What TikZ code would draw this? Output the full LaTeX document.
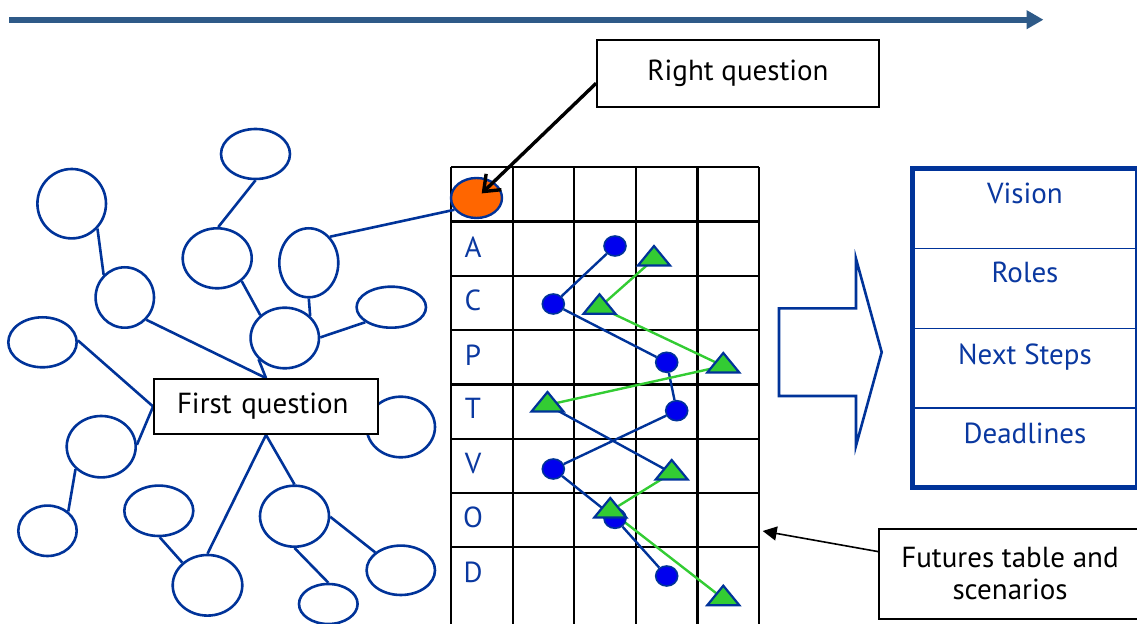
\documentclass[tikz,border=0pt]{standalone}
\usepackage{fontspec}
\setmainfont{PT Sans}
\usetikzlibrary{shapes.geometric,arrows.meta}
\pgfdeclarelayer{bg}
\pgfsetlayers{bg,main}
\definecolor{mmblue}{RGB}{0,51,153}
\definecolor{txtblue}{RGB}{10,56,160}
\definecolor{dotblue}{RGB}{0,0,238}
\definecolor{trigreen}{RGB}{51,204,51}
\definecolor{orangefill}{RGB}{255,102,0}
\definecolor{arrowblue}{RGB}{46,90,136}
\tikzset{
  mm/.style={ellipse, draw=mmblue, line width=1.3pt, fill=white, inner sep=0pt},
  mmline/.style={draw=mmblue, line width=1.3pt},
  dotnode/.style={ellipse, fill=dotblue, draw=mmblue, line width=0.8pt, inner sep=0pt, minimum width=11pt, minimum height=10pt},
  tri/.style={fill=trigreen, draw=mmblue, line width=1.1pt, line join=miter},
  blueline/.style={draw=mmblue, line width=1.2pt},
  greenline/.style={draw=trigreen, line width=1.2pt},
  gridline/.style={draw=black, line width=1.1pt},
  textbox/.style={draw=black, line width=0.9pt, fill=white, inner sep=0pt},
  letter/.style={text=txtblue, anchor=base, inner sep=0pt},
  plantext/.style={text=txtblue, anchor=base, inner sep=0pt},
}
\newcommand{\drawtri}[1]{\path[tri] (#1) ++(0,-13) -- ++(16,19.5) -- ++(-32,0) -- cycle;}
\begin{document}
\begin{tikzpicture}[x=0.5pt, y=-0.5pt, font=\fontsize{14.5}{17}\selectfont]
\useasboundingbox (0,0) rectangle (1137,624);

% top arrow
\coordinate (tl) at (9,19.7);
\coordinate (tr) at (1043.5,19.7);
\draw[draw=arrowblue, line width=3pt, -{Triangle[length=8.5pt,width=9pt]}] (tl) -- (tr);

% grid
\begin{pgfonlayer}{bg}
\foreach \i in {0,...,5} {
  \draw[gridline] (451+61.6*\i,167.3) -- (451+61.6*\i,626);
}
\foreach \j in {0,...,7} {
  \draw[gridline] (451,167.3+54.3*\j) -- (759,167.3+54.3*\j);
}
\end{pgfonlayer}

% mind map ellipses
\node[mm, minimum width=34.5pt, minimum height=25pt] (e1) at (255.5,154) {};
\node[mm, minimum width=34.3pt, minimum height=34.7pt] (e2) at (71.7,203.7) {};
\node[mm, minimum width=29.2pt, minimum height=30.2pt] (e3) at (124.8,297.5) {};
\node[mm, minimum width=34.5pt, minimum height=30pt] (e4) at (217.2,258.3) {};
\node[mm, minimum width=29.5pt, minimum height=34.5pt] (e5) at (308.8,262.8) {};
\node[mm, minimum width=34.2pt, minimum height=30.3pt] (e6) at (284.8,338) {};
\node[mm, minimum width=34.7pt, minimum height=20.5pt] (e7) at (391.3,307.2) {};
\node[mm, minimum width=34.2pt, minimum height=25pt] (e8) at (42.5,342.3) {};
\node[mm, minimum width=34.2pt, minimum height=30.3pt] (e9) at (400.8,427) {};
\node[mm, minimum width=34.5pt, minimum height=30.7pt] (e10) at (101.2,446.7) {};
\node[mm, minimum width=29.2pt, minimum height=25.2pt] (e11) at (47.5,530.8) {};
\node[mm, minimum width=34.5pt, minimum height=25.2pt] (e12) at (158.8,510.8) {};
\node[mm, minimum width=34.8pt, minimum height=30.3pt] (e13) at (207.5,585.3) {};
\node[mm, minimum width=34.5pt, minimum height=30.5pt] (e14) at (294.5,516.2) {};
\node[mm, minimum width=34.2pt, minimum height=24.7pt] (e15) at (400.8,570.3) {};
\node[mm, minimum width=29.3pt, minimum height=20pt] (e16) at (328.3,604) {};

% orange question ellipse
\node[ellipse, fill=orangefill, draw=mmblue, line width=1.2pt, inner sep=0pt, minimum width=25.5pt, minimum height=20pt] (orange) at (476.5,198) {};

% first question box
\node[textbox, minimum width=112pt, minimum height=27.5pt, text width=89pt, inner xsep=11.5pt, align=left] (fq) at (266,406.5) {First question};

% mind map connectors
\begin{pgfonlayer}{bg}
\draw[mmline] (e1.-90) -- (e4.88);
\draw[mmline] (e2.-44) -- (e3.133);
\draw[mmline] (e3.-46) -- (fq.north);
\draw[mmline] (e6.-141) -- (fq.north);
\draw[mmline] (e4.-43) -- (e6.137);
\draw[mmline] (e5.-90) -- (e6.41);
\draw[mmline] (e5.51) -- (orange.208);
\draw[mmline] (e6.1) -- (e7.210);
\draw[mmline] (e8.3) -- (fq.west);
\draw[mmline] (e10.3) -- (fq.west);
\draw[mmline] (e10.221) -- (e11.43);
\draw[mmline] (fq.south) -- (e13.90);
\draw[mmline] (fq.south) -- (e14.90);
\draw[mmline] (e12.-88) -- (e13.138);
\draw[mmline] (e14.-1) -- (e15.145);
\draw[mmline] (e14.-90) -- (e16.90);
\end{pgfonlayer}

% grid letters
\node[letter] (lA) at (473,257.7) {A};
\node[letter] (lC) at (473,311) {C};
\node[letter] (lP) at (473,366) {P};
\node[letter] (lT) at (473,419) {T};
\node[letter] (lV) at (473,474) {V};
\node[letter] (lO) at (473,527.7) {O};
\node[letter] (lD) at (473,582.7) {D};

% dots
\node[dotnode] (d1) at (615,246) {};
\node[dotnode] (d2) at (553.3,304) {};
\node[dotnode] (d3) at (666.7,362.3) {};
\node[dotnode] (d4) at (676.7,410.7) {};
\node[dotnode] (d5) at (553.3,469) {};
\node[dotnode] (d6) at (615,518.3) {};
\node[dotnode] (d7) at (666.7,576) {};

% triangles
\coordinate (t1) at (654,259);
\coordinate (t2) at (599.5,307.3);
\coordinate (t3) at (723.3,366);
\coordinate (t4) at (547.5,405);
\coordinate (t5) at (671.7,473);
\coordinate (t6) at (610.3,511);
\coordinate (t7) at (723.3,598.7);
\drawtri{t1}
\drawtri{t2}
\drawtri{t3}
\drawtri{t4}
\drawtri{t5}
\drawtri{t6}
\drawtri{t7}

% scenario lines
\begin{pgfonlayer}{bg}
\draw[blueline] (d1) -- (d2) -- (d3) -- (d4) -- (d5) -- (d6) -- (d7);
\draw[greenline] (t1) -- (t2) -- (t3) -- (t4);
\draw[blueline] (t4) -- (t5);
\draw[greenline] (t5) -- (t6) -- (t7);
\end{pgfonlayer}

% right question box and arrow
\node[textbox, minimum width=141pt, minimum height=33.5pt] (rq) at (738,73.5) {Right question};
\draw[black, line width=1.7pt, -{Straight Barb[length=7pt,width=11pt,line width=1.7pt]}] ([yshift=-4.9pt]rq.west) -- ([xshift=2.6pt,yshift=2.3pt]orange.center);

% big arrow
\path[draw=mmblue, line width=1.3pt, fill=white, line join=miter] (779,308.4) -- (856,308.4) -- (856,258.7) -- (881.7,352.2) -- (856,445.7) -- (856,396) -- (779,396) -- cycle;

% plan table
\draw[draw=mmblue, line width=0.8pt] (912.5,248.7) -- (1137,248.7);
\draw[draw=mmblue, line width=0.8pt] (912.5,328.7) -- (1137,328.7);
\draw[draw=mmblue, line width=0.8pt] (912.5,408.3) -- (1137,408.3);
\draw[draw=mmblue, line width=0.8pt] (1136,168.5) -- (1136,488);
\draw[draw=mmblue, line width=2.5pt, line join=miter] (1145,168.5) -- (912.5,168.5) -- (912.5,488) -- (1145,488);
\node[plantext] (vision) at (1025,203.5) {Vision};
\node[plantext] (roles) at (1025,283) {Roles};
\node[plantext] (next) at (1025,364.5) {Next Steps};
\node[plantext] (dead) at (1025,444) {Deadlines};

% futures box and arrow
\node[textbox, minimum width=131pt, minimum height=45pt, align=center] (fut) at (1010,574) {Futures table and\\[-1pt]scenarios};
\coordinate (gridpt) at (762.7,531);
\draw[black, line width=0.8pt, -{Triangle[length=7pt,width=7pt]}] ([yshift=11.2pt]fut.west) -- (gridpt);
\end{tikzpicture}
\end{document}
